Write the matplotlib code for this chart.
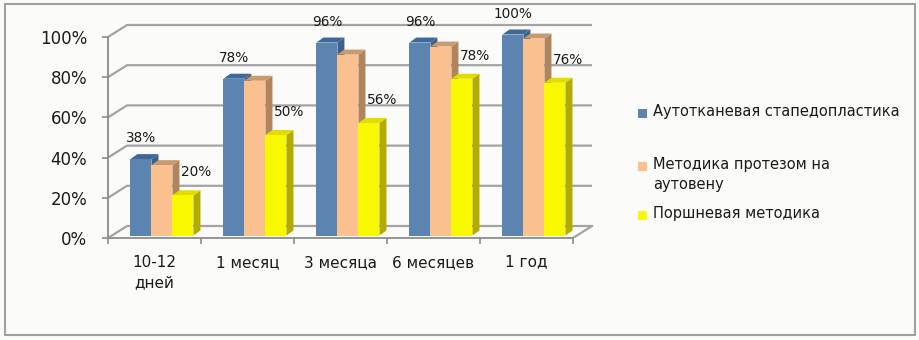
import matplotlib
matplotlib.use("Agg")
import matplotlib.pyplot as plt
from matplotlib.patches import Polygon, Rectangle
import numpy as np

categories = ["10-12\nдней", "1 месяц", "3 месяца", "6 месяцев", "1 год"]
series_names = ["Аутотканевая стапедопластика", "Методика протезом на\nаутовену", "Поршневая методика"]
autotissue = [38, 78, 96, 96, 100]
autovein = [35, 77, 90, 94, 98]
piston = [20, 50, 56, 78, 76]
yticks = [0, 20, 40, 60, 80, 100]
ytick_labels = ["0%", "20%", "40%", "60%", "80%", "100%"]

front = ["#5B84B1", "#FAC08F", "#F8F800"]
tops = ["#3D6898", "#C99A6E", "#E2DC00"]
sides = ["#3F6088", "#B0845C", "#B3AC00"]

W, H = 920, 340
fig = plt.figure(figsize=(W / 100, H / 100), dpi=100, facecolor="#FBFCFA")

# axes pixel geometry
ax_left, ax_bottom_px, ax_right, ax_top_px = 108, 238, 600, 20
ax = fig.add_axes([ax_left / W, (H - ax_bottom_px) / H,
                   (ax_right - ax_left) / W, (ax_bottom_px - ax_top_px) / H])
ax.set_facecolor("none")
px_per_cat = 93.0
px_per_pct = 2.01
ax.set_xlim(-0.5, -0.5 + (ax_right - ax_left) / px_per_cat)
ax.set_ylim(0, (ax_bottom_px - ax_top_px) / px_per_pct)

n = len(categories)
# wall depth and bar depth in data units
wdx, wdy = 19 / px_per_cat, 12 / px_per_pct
bdx, bdy = 7 / px_per_cat, 5 / px_per_pct
base = 2.5 / px_per_pct
grid_c = "#A3A3A3"

# gridlines on walls
for v in yticks:
    ax.plot([-0.5, -0.5 + wdx, n - 0.5 + wdx], [v, v + wdy, v + wdy],
            color=grid_c, lw=1.6, zorder=1, solid_capstyle="butt")
# floor right edge
ax.plot([n - 0.5, n - 0.5 + wdx], [0, wdy], color=grid_c, lw=1.6, zorder=1)

# bars
bw = 0.226
gc = 0.08
data = [autotissue, autovein, piston]
x = np.arange(n)
for i in range(n):
    for j, vals in enumerate(data):
        v = vals[i]
        y0, y1 = base, base + v
        xl = x[i] + gc + (j - 1) * bw - bw / 2
        xr = xl + bw
        z = 3 + 0.1 * (3 * i + j)
        side = Polygon([[xr, y0], [xr + bdx, y0 + bdy], [xr + bdx, y1 + bdy], [xr, y1]],
                       closed=True, facecolor=sides[j], edgecolor="none", zorder=z)
        top = Polygon([[xl, y1], [xl + bdx, y1 + bdy], [xr + bdx, y1 + bdy], [xr, y1]],
                      closed=True, facecolor=tops[j], edgecolor="none", zorder=z)
        ax.add_patch(side)
        ax.add_patch(top)
        ax.bar(xl, v, width=bw, bottom=base, align="edge", color=front[j],
               edgecolor="none", zorder=z + 0.05)

# data labels for first and third series
lab_dy = 21 / px_per_pct
for i in range(n):
    xb = x[i] + gc - bw
    ax.text(xb, base + autotissue[i] + lab_dy, f"{autotissue[i]}%", ha="center", va="center",
            fontsize=9.8, color="#1a1a1a", zorder=10)
    xy = x[i] + gc + bw + 13 / px_per_cat
    ax.text(xy, base + piston[i] + lab_dy + 1, f"{piston[i]}%", ha="center", va="center",
            fontsize=9.8, color="#1a1a1a", zorder=10)

# axes spines and ticks
for s in ["top", "right"]:
    ax.spines[s].set_visible(False)
ax.spines["left"].set_bounds(0, 100)
ax.spines["bottom"].set_bounds(-0.5, n - 0.5)
for s in ["left", "bottom"]:
    ax.spines[s].set_color("#8C8C8C")
    ax.spines[s].set_linewidth(1.3)
    ax.spines[s].set_zorder(2)

ax.set_yticks(yticks)
ax.set_yticklabels(ytick_labels, fontsize=12, color="#1a1a1a")
ax.tick_params(axis="y", length=4.5, width=1.2, color="#8C8C8C", pad=10.5)

ax.set_xticks(x)
ax.set_xticklabels(categories, fontsize=11, color="#1a1a1a", linespacing=1.45)
ax.set_xticks(np.arange(n + 1) - 0.5, minor=True)
ax.tick_params(axis="x", which="major", length=0, pad=12)
ax.tick_params(axis="x", which="minor", length=4, width=1.2, color="#8C8C8C")

# legend (manual layout)
leg_y = [113, 166, 215]
for j, name in enumerate(series_names):
    y = leg_y[j]
    fig.patches.append(Rectangle((638 / W, (H - y - 4.5) / H), 9 / W, 9 / H,
                                 transform=fig.transFigure, facecolor=front[j],
                                 edgecolor="none"))
    fig.text(653 / W, (H - y + 9) / H, name, ha="left", va="top", fontsize=10.5,
             color="#1a1a1a", linespacing=1.45)

# chart frame
fig.patches.append(Rectangle((5 / W, 5 / H), 910 / W, 331 / H, transform=fig.transFigure,
                             facecolor="none", edgecolor="#A0A0A0", lw=1.5))

fig.savefig("out.png", dpi=100, facecolor=fig.get_facecolor())
